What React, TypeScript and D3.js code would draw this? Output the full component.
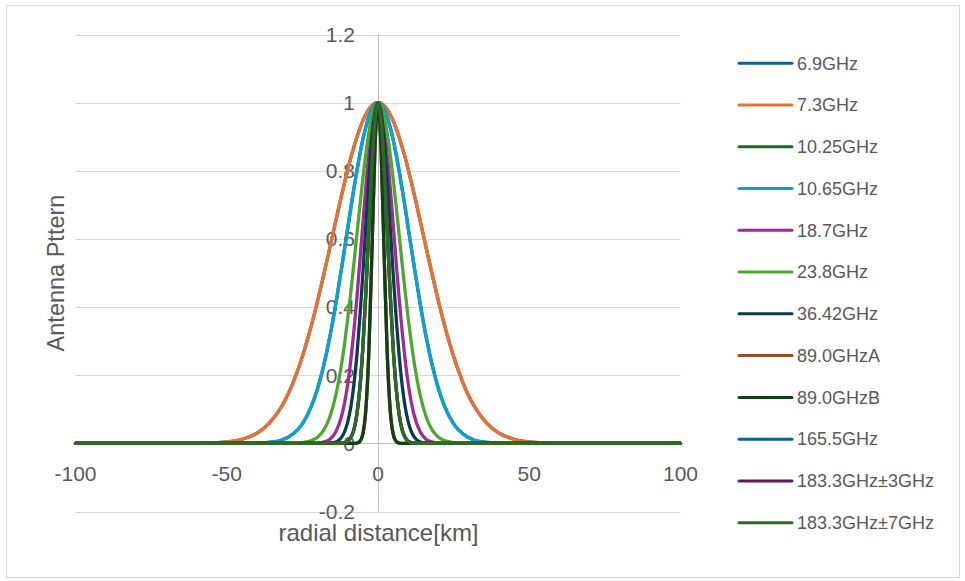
import React from "react";
import * as d3 from "d3";

// Half-profile sample distances (km) — curves are symmetric about 0
const distances = [0, 1, 2, 3, 4, 5, 6, 7, 8, 9, 10, 11, 12, 14, 16, 18, 20, 22, 25, 28, 32, 36, 40, 45, 50, 55, 60, 70, 80, 90, 100];

const p6_9 = [1, 0.998, 0.991, 0.981, 0.966, 0.947, 0.924, 0.898, 0.869, 0.838, 0.803, 0.767, 0.73, 0.651, 0.571, 0.492, 0.417, 0.347, 0.255, 0.18, 0.106, 0.059, 0.03, 0.012, 0.004, 0.001, 0, 0, 0, 0, 0];
const p7_3 = [1, 0.998, 0.991, 0.981, 0.966, 0.947, 0.924, 0.898, 0.869, 0.838, 0.803, 0.767, 0.73, 0.651, 0.571, 0.492, 0.417, 0.347, 0.255, 0.18, 0.106, 0.059, 0.03, 0.012, 0.004, 0.001, 0, 0, 0, 0, 0];
const p10_25 = [1, 0.995, 0.982, 0.96, 0.929, 0.892, 0.848, 0.799, 0.746, 0.69, 0.632, 0.574, 0.517, 0.407, 0.309, 0.227, 0.16, 0.109, 0.057, 0.028, 0.009, 0.003, 0.001, 0, 0, 0, 0, 0, 0, 0, 0];
const p10_65 = [1, 0.995, 0.982, 0.96, 0.929, 0.892, 0.848, 0.799, 0.746, 0.69, 0.632, 0.574, 0.517, 0.407, 0.309, 0.227, 0.16, 0.109, 0.057, 0.028, 0.009, 0.003, 0.001, 0, 0, 0, 0, 0, 0, 0, 0];
const p18_7 = [1, 0.983, 0.933, 0.855, 0.756, 0.646, 0.533, 0.425, 0.327, 0.243, 0.174, 0.121, 0.081, 0.033, 0.011, 0.004, 0.001, 0, 0, 0, 0, 0, 0, 0, 0, 0, 0, 0, 0, 0, 0];
const p23_8 = [1, 0.99, 0.961, 0.913, 0.851, 0.778, 0.696, 0.611, 0.525, 0.443, 0.366, 0.296, 0.235, 0.139, 0.076, 0.038, 0.018, 0.008, 0.002, 0, 0, 0, 0, 0, 0, 0, 0, 0, 0, 0, 0];
const p36_42 = [1, 0.973, 0.895, 0.779, 0.642, 0.5, 0.369, 0.257, 0.17, 0.106, 0.063, 0.035, 0.018, 0.004, 0.001, 0, 0, 0, 0, 0, 0, 0, 0, 0, 0, 0, 0, 0, 0, 0, 0];
const p89A = [1, 0.867, 0.564, 0.276, 0.101, 0.028, 0.006, 0.001, 0, 0, 0, 0, 0, 0, 0, 0, 0, 0, 0, 0, 0, 0, 0, 0, 0, 0, 0, 0, 0, 0, 0];
const p89B = [1, 0.867, 0.564, 0.276, 0.101, 0.028, 0.006, 0.001, 0, 0, 0, 0, 0, 0, 0, 0, 0, 0, 0, 0, 0, 0, 0, 0, 0, 0, 0, 0, 0, 0, 0];
const p165_5 = [1, 0.951, 0.817, 0.634, 0.445, 0.282, 0.162, 0.084, 0.039, 0.017, 0.006, 0.002, 0.001, 0, 0, 0, 0, 0, 0, 0, 0, 0, 0, 0, 0, 0, 0, 0, 0, 0, 0];
const p183_3 = [1, 0.951, 0.817, 0.634, 0.445, 0.282, 0.162, 0.084, 0.039, 0.017, 0.006, 0.002, 0.001, 0, 0, 0, 0, 0, 0, 0, 0, 0, 0, 0, 0, 0, 0, 0, 0, 0, 0];
const p183_7 = [1, 0.951, 0.817, 0.634, 0.445, 0.282, 0.162, 0.084, 0.039, 0.017, 0.006, 0.002, 0.001, 0, 0, 0, 0, 0, 0, 0, 0, 0, 0, 0, 0, 0, 0, 0, 0, 0, 0];

const seriesNames = ["6.9GHz", "7.3GHz", "10.25GHz", "10.65GHz", "18.7GHz", "23.8GHz", "36.42GHz", "89.0GHzA", "89.0GHzB", "165.5GHz", "183.3GHz±3GHz", "183.3GHz±7GHz"];
const seriesProfiles = [p6_9, p7_3, p10_25, p10_65, p18_7, p23_8, p36_42, p89A, p89B, p165_5, p183_3, p183_7];
const seriesColors = ["#156082", "#E97132", "#196B24", "#0F9ED5", "#A02B93", "#4EA72E", "#0D3A4E", "#9A4A1E", "#0F4016", "#0E6486", "#66195C", "#2F6A22"];

const xTicks = [-100, -50, 0, 50, 100];
const yTicks = [-0.2, 0, 0.2, 0.4, 0.6, 0.8, 1, 1.2];
const yTickLabels = ["-0.2", "0", "0.2", "0.4", "0.6", "0.8", "1", "1.2"];

const FONT = "'Liberation Sans', Arial, sans-serif";
const TXT = "#595959";

function mirror(profile: number[]) {
  const pts: [number, number][] = [];
  for (let i = distances.length - 1; i > 0; i--) pts.push([-distances[i], profile[i]]);
  for (let i = 0; i < distances.length; i++) pts.push([distances[i], profile[i]]);
  return pts;
}

export default function App() {
  const W = 965, H = 581;
  const x = d3.scaleLinear().domain([-100, 100]).range([75.5, 680.5]);
  const y = d3.scaleLinear().domain([-0.2, 1.2]).range([511.5, 34.5]);
  const line = d3
    .line<[number, number]>()
    .x((d) => x(d[0]))
    .y((d) => y(d[1]))
    .curve(d3.curveMonotoneX);

  const legendX0 = 739, legendX1 = 792, legendY0 = 63.3, legendStep = 41.76;

  return (
    <svg width={W} height={H} style={{ position: "absolute", left: 0, top: 0, background: "#fff" }}>
      <rect x={6.5} y={5.5} width={953} height={572} fill="#fff" stroke="#d9d9d9" strokeWidth={1} />
      {/* gridlines */}
      {yTicks.map((t) => (
        <line key={"g" + t} x1={x(-100)} x2={x(100)} y1={Math.round(y(t)) + 0.5} y2={Math.round(y(t)) + 0.5} stroke="#d9d9d9" strokeWidth={1} />
      ))}
      {/* vertical axis at x=0 */}
      <line x1={Math.round(x(0)) + 0.5} x2={Math.round(x(0)) + 0.5} y1={y(1.2)} y2={y(-0.2)} stroke="#bfbfbf" strokeWidth={1} />
      <line x1={x(-100)} x2={x(100)} y1={Math.round(y(0)) + 0.5} y2={Math.round(y(0)) + 0.5} stroke="#bfbfbf" strokeWidth={1} />
      {/* y tick labels */}
      {yTicks.map((t, i) => (
        <text key={"yl" + t} x={x(0) - 23} y={y(t)} dy="0.35em" textAnchor="end" fontFamily={FONT} fontSize={21} fill={TXT}>
          {yTickLabels[i]}
        </text>
      ))}
      {/* x tick labels */}
      {xTicks.map((t) => (
        <text key={"xl" + t} x={x(t)} y={474} dy="0.35em" textAnchor="middle" fontFamily={FONT} fontSize={21} fill={TXT}>
          {t}
        </text>
      ))}
      {/* series */}
      {seriesProfiles.map((p, i) => (
        <path key={seriesNames[i]} d={line(mirror(p)) || ""} fill="none" stroke={seriesColors[i]} strokeWidth={3.3} strokeLinejoin="round" strokeLinecap="round" />
      ))}
      {/* axis titles */}
      <text x={378.5} y={541} textAnchor="middle" fontFamily={FONT} fontSize={24} fill={TXT}>
        radial distance[km]
      </text>
      <text transform={`translate(56,273) rotate(-90)`} dy="0.35em" textAnchor="middle" fontFamily={FONT} fontSize={23.5} fill={TXT}>
        Antenna Pttern
      </text>
      {/* legend */}
      {seriesNames.map((n, i) => (
        <g key={"lg" + n}>
          <line x1={legendX0} x2={legendX1} y1={legendY0 + i * legendStep} y2={legendY0 + i * legendStep} stroke={seriesColors[i]} strokeWidth={3} strokeLinecap="round" />
          <text x={797} y={legendY0 + i * legendStep} dy="0.35em" fontFamily={FONT} fontSize={18} fill={TXT}>
            {n}
          </text>
        </g>
      ))}
    </svg>
  );
}
